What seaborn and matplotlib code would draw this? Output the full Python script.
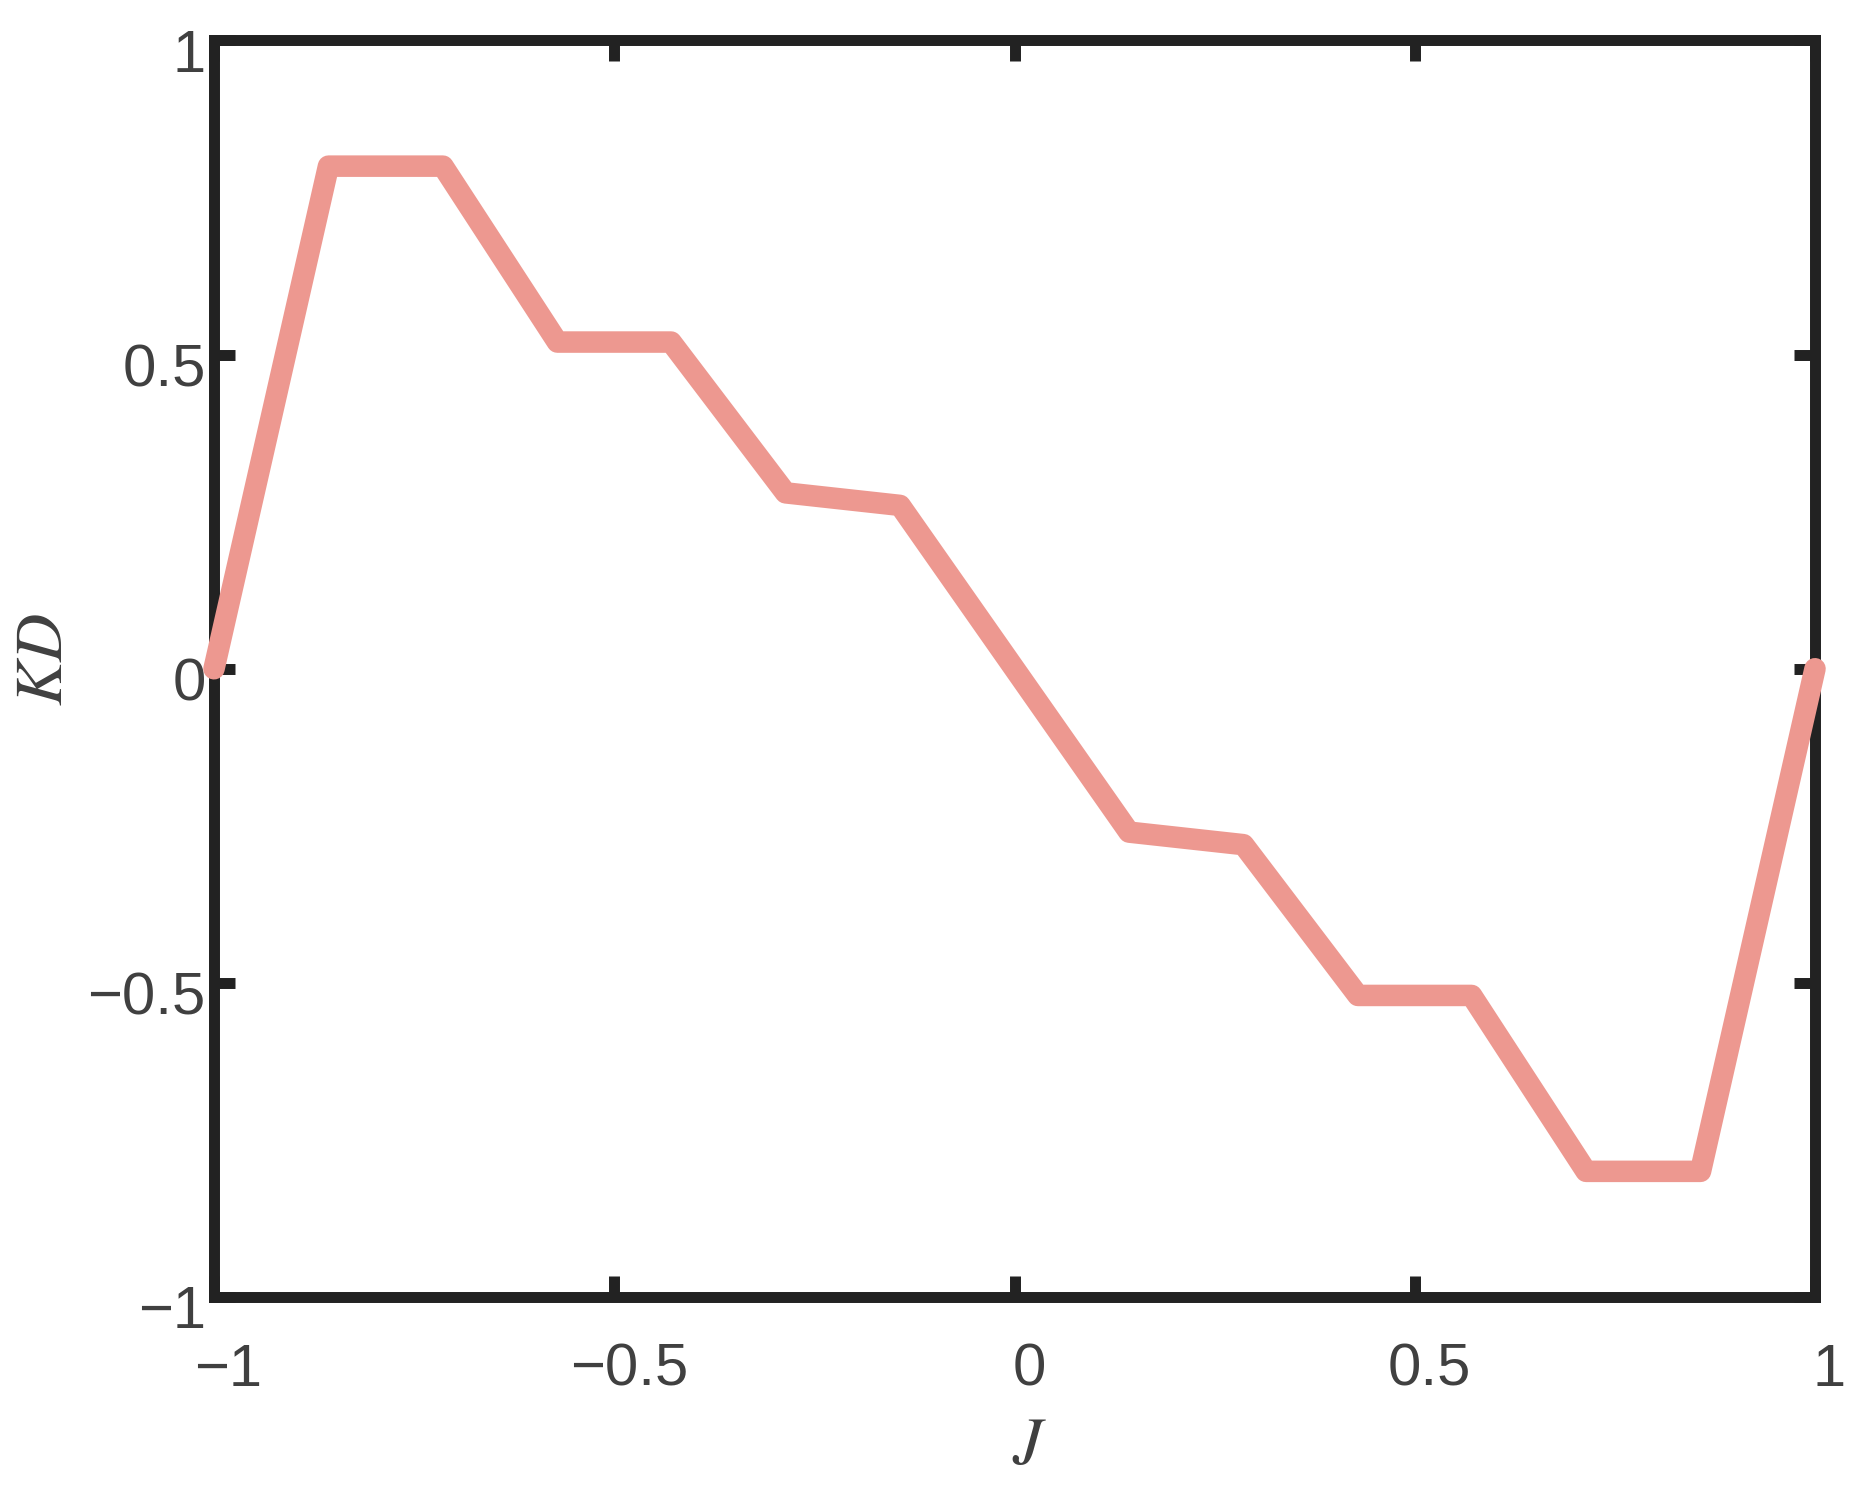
import numpy as np
import pandas as pd
import seaborn as sns
import matplotlib
matplotlib.use("Agg")
import matplotlib.pyplot as plt
from matplotlib.transforms import ScaledTranslation

# ---- data ----
J_values = [-1.0, -0.857, -0.714, -0.571, -0.429, -0.286, -0.143, 0.0,
            0.143, 0.286, 0.429, 0.571, 0.714, 0.857, 1.0]
KD_values = [0.0, 0.80, 0.80, 0.52, 0.52, 0.28, 0.26, 0.0,
             -0.26, -0.28, -0.52, -0.52, -0.80, -0.80, 0.0]
tick_values = [-1, -0.5, 0, 0.5, 1]
tick_labels = ["\u22121", "\u22120.5", "0", "0.5", "1"]

sns.set_style("white")
plt.rcParams["font.family"] = ["Liberation Sans", "DejaVu Sans"]
plt.rcParams["mathtext.fontset"] = "stix"

DPI = 100
fig = plt.figure(figsize=(18.55, 14.88), dpi=DPI)
ax = fig.add_axes([214 / 1855, (1488 - 1297) / 1488, 1601 / 1855, 1256.5 / 1488])

df = pd.DataFrame({"J": J_values, "KD": KD_values})
sns.lineplot(data=df, x="J", y="KD", ax=ax, color="#ED9890", linewidth=15.5,
             sort=False, estimator=None)
line = ax.lines[0]
line.set_solid_joinstyle("round")
line.set_solid_capstyle("round")
line.set_clip_on(False)
line.set_zorder(3)

ax.set_xlim(-1, 1)
ax.set_ylim(-1, 1)
ax.set_xticks(tick_values)
ax.set_xticklabels(tick_labels)
ax.set_yticks(tick_values)
ax.set_yticklabels(tick_labels)

frame_col = "#222222"
lw = 7.9
for s in ax.spines.values():
    s.set_visible(True)
    s.set_linewidth(lw)
    s.set_color(frame_col)
    s.set_zorder(2.4)

ax.tick_params(axis="both", which="major", direction="in", length=15, width=lw,
               color=frame_col, top=True, right=True, bottom=True, left=True,
               labelsize=43, labelcolor="#404040")
ax.tick_params(axis="x", pad=33)
ax.tick_params(axis="y", pad=6)

# small offsets of tick labels as in the reference
for lab in ax.get_xticklabels():
    lab.set_transform(lab.get_transform() + ScaledTranslation(14.5 / DPI, 0, fig.dpi_scale_trans))
for lab in ax.get_yticklabels():
    lab.set_transform(lab.get_transform() + ScaledTranslation(0, -10 / DPI, fig.dpi_scale_trans))

ax.set_xlabel(r"$J$", fontsize=48, color="#404040")
ax.set_ylabel(r"$KD$", fontsize=48, color="#404040")
ax.xaxis.label.set_va("center")
ax.yaxis.label.set_va("center")
ax.xaxis.set_label_coords(0.5097, -0.119)
ax.yaxis.set_label_coords(-0.1055, 0.507)

fig.savefig("out.png", dpi=DPI, facecolor="white")
